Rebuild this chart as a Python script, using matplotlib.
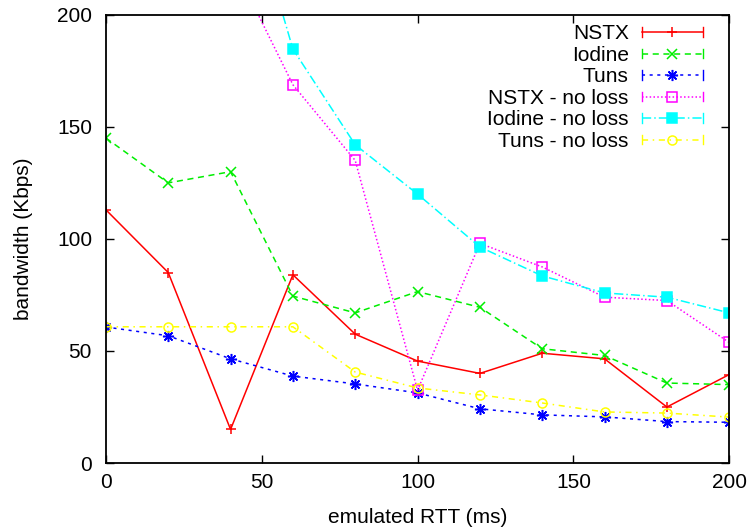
import numpy as np
import matplotlib
matplotlib.use("Agg")
import matplotlib.pyplot as plt
from matplotlib.legend_handler import HandlerLine2D
from matplotlib.lines import Line2D

plt.rcParams['font.family'] = ['Liberation Sans', 'DejaVu Sans']

rtt = [0, 20, 40, 60, 80, 100, 120, 140, 160, 180, 200]

nstx = [113, 85, 15, 84, 57.5, 45.5, 40, 49, 46.5, 25, 39.5]
iodine = [145, 125, 130, 74.5, 67, 76.5, 69.5, 51, 48, 35.7, 35]
tuns = [60.7, 56.8, 46.5, 38.8, 35.3, 31.3, 24.2, 21.5, 20.6, 18.5, 18.2]
nstx_nl = [420, 320, 225, 168.8, 135, 32.5, 98, 87.5, 74, 72.5, 53.8]
iodine_nl = [480, 380, 280, 184.7, 142, 120, 96.4, 83.5, 75.9, 74, 67]
tuns_nl = [60.8, 60.8, 60.8, 60.8, 40.6, 33.5, 30.4, 26.8, 22.8, 22.3, 20.5]

series = [
    ("NSTX", nstx, '#ff0000', '-', '+', 'none', 6.5),
    ("Iodine", iodine, '#00ee00', (0, (4, 3)), 'x', 'none', 6.5),
    ("Tuns", tuns, '#0000ff', (0, (2, 3)), (8, 2, 0), 'none', 8),
    ("NSTX - no loss", nstx_nl, '#ff00ff', (0, (1, 1.5)), 's', 'none', 6.5),
    ("Iodine - no loss", iodine_nl, '#00ffff', (0, (6, 2, 1, 2)), 's', '#00ffff', 6.5),
    ("Tuns - no loss", tuns_nl, '#ffff00', (0, (4, 3, 1, 3)), 'o', 'none', 6.5),
]


class CapHandler(HandlerLine2D):
    # gnuplot-style key sample: little vertical bars at both ends
    def create_artists(self, legend, orig_handle, xdescent, ydescent,
                       width, height, fontsize, trans):
        arts = super().create_artists(legend, orig_handle, xdescent, ydescent,
                                      width, height, fontsize, trans)
        yc = height / 2 - ydescent
        for x in (-xdescent, width - xdescent):
            cap = Line2D([x, x], [yc - 3.5, yc + 3.5], color=orig_handle.get_color(),
                         linewidth=1.0, transform=trans)
            arts.append(cap)
        return arts


fig = plt.figure(figsize=(7.51, 5.28), dpi=100)
ax = fig.add_axes([0.141, 0.123, 0.830, 0.849])

for name, vals, col, ls, mk, fc, ms in series:
    ax.plot(rtt, vals, color=col, linestyle=ls, linewidth=1.1, marker=mk,
            markersize=ms, markerfacecolor=fc, markeredgecolor=col,
            markeredgewidth=1.1, label=name)

ax.set_xlim(0, 200)
ax.set_ylim(0, 200)
ax.set_xticks([0, 50, 100, 150, 200])
ax.set_yticks([0, 50, 100, 150, 200])
ax.tick_params(direction='in', length=6, width=1, top=True, right=True,
               labelsize=15)
ax.tick_params(axis='y', pad=10)
ax.tick_params(axis='x', pad=7)
for s in ax.spines.values():
    s.set_linewidth(1.3)

ax.set_xlabel("emulated RTT (ms)", fontsize=15, labelpad=12)
ax.set_ylabel("bandwidth (Kbps)", fontsize=15, labelpad=17)

leg = ax.legend(loc='upper right', bbox_to_anchor=(0.974, 1.002), frameon=False,
                markerfirst=False, fontsize=15, handlelength=2.9,
                labelspacing=0.12, handletextpad=0.65, borderpad=0,
                handler_map={Line2D: CapHandler()})
for t in leg.get_texts():
    t.set_ha('right')

fig.savefig("out.png", dpi=100)
